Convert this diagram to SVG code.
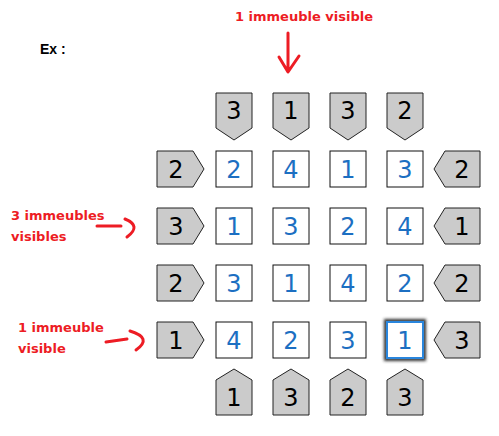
<svg xmlns="http://www.w3.org/2000/svg" width="499" height="436" viewBox="0 0 499 436">
<style>
.cell{fill:#fff;stroke:#111;stroke-width:1}
.clue{fill:#cbcbcb;stroke:#222;stroke-width:1}
.d{font-family:"DejaVu Sans",sans-serif;font-size:24px;text-anchor:middle}
.b{fill:#1c6fc2}
.k{fill:#000}
.lab{font-family:"DejaVu Sans",sans-serif;font-weight:bold;font-size:13px;fill:#ed1c24}
.ann{fill:none;stroke:#ed1c24;stroke-width:3;stroke-linecap:round;stroke-linejoin:round}
</style>
<defs>
<filter id="glow" x="-30%" y="-30%" width="160%" height="160%"><feGaussianBlur stdDeviation="1.6"/></filter>
</defs>
<rect width="499" height="436" fill="#fff"/>
<text x="40" y="54" font-family="Liberation Sans, sans-serif" font-weight="bold" font-size="14" fill="#000">Ex :</text>
<g id="labels">
<text class="lab" x="235" y="21">1 immeuble visible</text>
<text class="lab" x="11" y="220">3 immeubles</text>
<text class="lab" x="11" y="241">visibles</text>
<text class="lab" x="18" y="332">1 immeuble</text>
<text class="lab" x="18" y="353">visible</text>
</g>
<g id="connectors">
<path class="ann" d="M288,33 L288,71 M279,57 L288,72 L299,56"/>
<path class="ann" d="M97,226 L121,226 M125,219 Q142,226 127,237"/>
<path class="ann" d="M106,342 L127,339 M130,331 Q153,338 136,350"/>
</g>
<g id="top-clues">
<g id="t1"><polygon class="clue" points="216,93 252,93 252,128 234,140 216,128"/><text class="d k" x="234" y="119">3</text></g>
<g id="t2"><polygon class="clue" points="273,93 309,93 309,128 291,140 273,128"/><text class="d k" x="291" y="119">1</text></g>
<g id="t3"><polygon class="clue" points="330,93 366,93 366,128 348,140 330,128"/><text class="d k" x="348" y="119">3</text></g>
<g id="t4"><polygon class="clue" points="387,93 423,93 423,128 405,140 387,128"/><text class="d k" x="405" y="119">2</text></g>
</g>
<g id="bottom-clues">
<g id="b1"><polygon class="clue" points="216,380 234,369 252,380 252,415 216,415"/><text class="d k" x="234" y="406">1</text></g>
<g id="b2"><polygon class="clue" points="273,380 291,369 309,380 309,415 273,415"/><text class="d k" x="291" y="406">3</text></g>
<g id="b3"><polygon class="clue" points="330,380 348,369 366,380 366,415 330,415"/><text class="d k" x="348" y="406">2</text></g>
<g id="b4"><polygon class="clue" points="387,380 405,369 423,380 423,415 387,415"/><text class="d k" x="405" y="406">3</text></g>
</g>
<g id="left-clues">
<g id="l1"><polygon class="clue" points="157,151 193,151 204,169 193,187 157,187"/><text class="d k" x="176" y="178">2</text></g>
<g id="l2"><polygon class="clue" points="157,208 193,208 204,226 193,244 157,244"/><text class="d k" x="176" y="235">3</text></g>
<g id="l3"><polygon class="clue" points="157,265 193,265 204,283 193,301 157,301"/><text class="d k" x="176" y="292">2</text></g>
<g id="l4"><polygon class="clue" points="157,322 193,322 204,340 193,358 157,358"/><text class="d k" x="176" y="349">1</text></g>
</g>
<g id="right-clues">
<g id="r1"><polygon class="clue" points="434,169 445,151 480,151 480,187 445,187"/><text class="d k" x="462" y="178">2</text></g>
<g id="r2"><polygon class="clue" points="434,226 445,208 480,208 480,244 445,244"/><text class="d k" x="462" y="235">1</text></g>
<g id="r3"><polygon class="clue" points="434,283 445,265 480,265 480,301 445,301"/><text class="d k" x="462" y="292">2</text></g>
<g id="r4"><polygon class="clue" points="434,340 445,322 480,322 480,358 445,358"/><text class="d k" x="462" y="349">3</text></g>
</g>
<g id="grid">
<g id="c11"><rect class="cell" x="216" y="151" width="36" height="36"/><text class="d b" x="234" y="178">2</text></g>
<g id="c12"><rect class="cell" x="273" y="151" width="36" height="36"/><text class="d b" x="291" y="178">4</text></g>
<g id="c13"><rect class="cell" x="330" y="151" width="36" height="36"/><text class="d b" x="348" y="178">1</text></g>
<g id="c14"><rect class="cell" x="387" y="151" width="36" height="36"/><text class="d b" x="405" y="178">3</text></g>
<g id="c21"><rect class="cell" x="216" y="208" width="36" height="36"/><text class="d b" x="234" y="235">1</text></g>
<g id="c22"><rect class="cell" x="273" y="208" width="36" height="36"/><text class="d b" x="291" y="235">3</text></g>
<g id="c23"><rect class="cell" x="330" y="208" width="36" height="36"/><text class="d b" x="348" y="235">2</text></g>
<g id="c24"><rect class="cell" x="387" y="208" width="36" height="36"/><text class="d b" x="405" y="235">4</text></g>
<g id="c31"><rect class="cell" x="216" y="265" width="36" height="36"/><text class="d b" x="234" y="292">3</text></g>
<g id="c32"><rect class="cell" x="273" y="265" width="36" height="36"/><text class="d b" x="291" y="292">1</text></g>
<g id="c33"><rect class="cell" x="330" y="265" width="36" height="36"/><text class="d b" x="348" y="292">4</text></g>
<g id="c34"><rect class="cell" x="387" y="265" width="36" height="36"/><text class="d b" x="405" y="292">2</text></g>
<g id="c41"><rect class="cell" x="216" y="322" width="36" height="36"/><text class="d b" x="234" y="349">4</text></g>
<g id="c42"><rect class="cell" x="273" y="322" width="36" height="36"/><text class="d b" x="291" y="349">2</text></g>
<g id="c43"><rect class="cell" x="330" y="322" width="36" height="36"/><text class="d b" x="348" y="349">3</text></g>
<g id="c44"><rect x="386" y="321" width="38" height="38" fill="none" stroke="#333" stroke-width="4" filter="url(#glow)"/><rect x="387" y="322" width="36" height="36" fill="#fff" stroke="#2a86dd" stroke-width="2"/><text class="d b" x="405" y="349">1</text></g>
</g>
</svg>
